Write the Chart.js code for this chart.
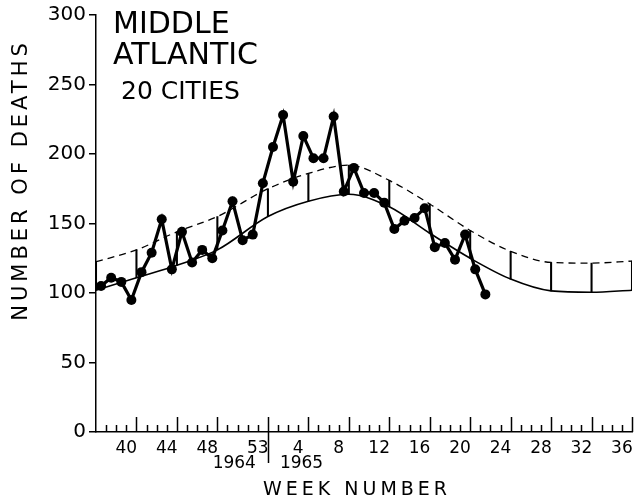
<!DOCTYPE html>
<html>
<head>
<meta charset="utf-8">
<script src="https://cdn.jsdelivr.net/npm/chart.js@4"></script>
<style>
  html, body { margin: 0; padding: 0; background: #fff; }
</style>
</head>
<body>
<canvas id="chart" width="641" height="503"></canvas>
<script>
// weekly deaths, Middle Atlantic, 20 cities
const weeks1964 = [37, 38, 39, 40, 41, 42, 43, 44, 45, 46, 47, 48, 49, 50, 51, 52, 53];
const deaths1964 = [105, 111, 108, 95, 115, 129, 153, 117, 144, 122, 131, 125, 145, 166, 138, 142, 179];
const weeks1965 = [1, 2, 3, 4, 5, 6, 7, 8, 9, 10, 11, 12, 13, 14, 15, 16, 17, 18, 19, 20, 21, 22];
const deaths1965 = [205, 228, 180, 213, 197, 197, 227, 173, 190, 172, 172, 165, 146, 152, 154, 161, 133, 136, 124, 142, 117, 99];

// expected curve and threshold, read at the end of each marked week
const curveWeeks1964 = [36, 40, 44, 48, 53];
const curveWeeks1965 = [4, 8, 12, 16, 20, 24, 28, 32, 36];
const expected = [102, 111, 120, 131, 155, 166, 171, 162, 143, 125, 110, 101.5, 100.5, 102];
const threshold = [122.5, 131, 144, 155, 175, 186, 192, 181, 164, 145, 130, 122, 121.5, 123];

const tickWeeks1964 = [40, 44, 48, 53];
const tickWeeks1965 = [4, 8, 12, 16, 20, 24, 28, 32, 36];

const FONT = "'DejaVu Sans', sans-serif";

// week -> position on the axis (end of that week)
const end1964 = w => w - 36;
const end1965 = w => w + 17;

const observed = weeks1964.map((w, k) => ({ x: end1964(w) - 0.5, y: deaths1964[k] }))
  .concat(weeks1965.map((w, k) => ({ x: end1965(w) - 0.5, y: deaths1965[k] })));
const curveX = curveWeeks1964.map(end1964).concat(curveWeeks1965.map(end1965));
const expData = curveX.map((x, k) => ({ x: x, y: expected[k] }));
const thrData = curveX.map((x, k) => ({ x: x, y: threshold[k] }));
const bars = curveX.map((x, k) => ({ x: x, y: [expected[k], threshold[k]] }));

const tallTicks = tickWeeks1964.map(end1964).concat(tickWeeks1965.map(end1965));
const yearBreak = end1964(53);

// label for the week whose cell starts at position i
const weekLabel = i => {
  const w = i < yearBreak ? i + 37 : i - yearBreak + 1;
  const list = i < yearBreak ? tickWeeks1964 : tickWeeks1965;
  return list.includes(w) ? String(w) : '';
};

const decor = {
  id: 'decor',
  afterDraw(chart) {
    const ctx = chart.ctx;
    const xs = chart.scales.x;
    const ys = chart.scales.y;
    const base = ys.getPixelForValue(0);
    ctx.save();
    ctx.strokeStyle = '#000';
    ctx.lineWidth = 1.5;
    ctx.beginPath();
    for (let i = 1; i <= 53; i++) {
      const px = Math.round(xs.getPixelForValue(i)) + 0.5;
      if (i === yearBreak) {
        ctx.moveTo(px, base - 15);
        ctx.lineTo(px, base + 31);
      } else {
        ctx.moveTo(px, base);
        ctx.lineTo(px, base - (tallTicks.includes(i) ? 15 : 7));
      }
    }
    ctx.stroke();

    ctx.fillStyle = '#000';
    // years under the axis
    const sep = xs.getPixelForValue(yearBreak);
    ctx.font = '17px ' + FONT;
    ctx.textBaseline = 'middle';
    ctx.textAlign = 'right';
    ctx.fillText('1964', sep - 12, base + 32);
    ctx.textAlign = 'left';
    ctx.fillText('1965', sep + 12, base + 32);

    // axis titles
    ctx.letterSpacing = '4px';
    ctx.font = '19px ' + FONT;
    ctx.textAlign = 'center';
    ctx.fillText('WEEK NUMBER', 357, 490);
    ctx.save();
    ctx.translate(22, 180);
    ctx.rotate(-Math.PI / 2);
    ctx.font = '21px ' + FONT;
    ctx.fillText('NUMBER OF DEATHS', 0, 0);
    ctx.restore();

    // title
    ctx.letterSpacing = '0px';
    ctx.textAlign = 'left';
    ctx.textBaseline = 'alphabetic';
    ctx.font = '30px ' + FONT;
    ctx.fillText('MIDDLE', 113, 33);
    ctx.fillText('ATLANTIC', 113, 64);
    ctx.font = '25px ' + FONT;
    ctx.fillText('20 CITIES', 121, 99);
    ctx.restore();
  }
};

new Chart(document.getElementById('chart').getContext('2d'), {
  type: 'line',
  data: {
    datasets: [
      {
        label: 'Deaths',
        data: observed,
        borderColor: '#000',
        backgroundColor: '#000',
        borderWidth: 3.2,
        pointRadius: 5,
        pointBorderWidth: 0,
        tension: 0,
        order: 0
      },
      {
        label: 'Threshold',
        data: thrData,
        borderColor: '#000',
        borderWidth: 1.3,
        borderDash: [7, 5],
        pointRadius: 0,
        cubicInterpolationMode: 'monotone',
        order: 1
      },
      {
        label: 'Expected',
        data: expData,
        borderColor: '#000',
        borderWidth: 1.6,
        pointRadius: 0,
        cubicInterpolationMode: 'monotone',
        order: 2
      },
      {
        type: 'bar',
        label: 'Band',
        data: bars,
        backgroundColor: '#000',
        barThickness: 1.4,
        order: 3
      }
    ]
  },
  options: {
    responsive: false,
    animation: false,
    layout: { padding: { top: 15, right: 9, left: 0, bottom: 0 } },
    plugins: { legend: { display: false }, tooltip: { enabled: false } },
    scales: {
      x: {
        type: 'linear',
        min: 0,
        max: 53,
        offset: false,
        afterFit: s => { s.height = 71; },
        afterBuildTicks: s => {
          const t = [];
          for (let i = 0; i <= 53; i++) t.push({ value: i });
          s.ticks = t;
        },
        ticks: {
          autoSkip: false,
          maxRotation: 0,
          padding: 6,
          color: '#000',
          font: { size: 17, family: FONT },
          callback: v => weekLabel(v)
        },
        grid: { display: false, drawTicks: false, offset: false },
        border: { color: '#000', width: 1.5 }
      },
      y: {
        min: 0,
        max: 300,
        afterFit: s => { s.width = 96; },
        ticks: {
          stepSize: 50,
          padding: 3,
          color: '#000',
          font: { size: 20, family: FONT }
        },
        grid: { drawOnChartArea: false, tickLength: 7, color: '#000', lineWidth: 1.5 },
        border: { color: '#000', width: 1.5 }
      }
    }
  },
  plugins: [decor]
});
</script>
</body>
</html>
